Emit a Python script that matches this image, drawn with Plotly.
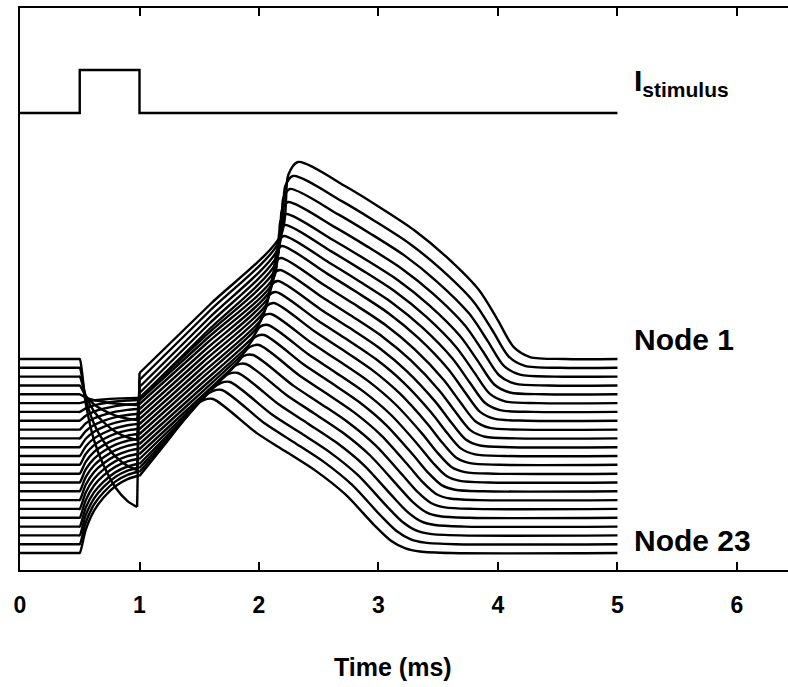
import plotly.graph_objects as go

# ---------------- data (time in ms, potentials in arbitrary display units) ----------------
node_names = ["Node %d" % k for k in range(1, 24)]

# stimulus current trace
stim_time = [0.0, 0.5, 0.5, 1.0, 1.0, 5.0]
stim_current = [0.0, 0.0, 1.0, 1.0, 0.0, 0.0]
stim_baseline = 457.0
stim_amplitude = 43.0

# per-node levels / key times (Node 1 ... Node 23)
rest_level = [211.0, 202.2, 193.4, 184.5, 175.7, 166.9, 158.1, 149.3, 140.4, 131.6, 122.8, 114.0,
              105.2, 96.3, 87.5, 78.7, 69.9, 61.1, 52.2, 43.4, 34.6, 25.8, 17.0]
stim_level = [63, 100, 130, 150, 165, 172, 170, 166, 161, 156, 151, 146, 141, 136, 131, 126, 121,
              116, 111, 106, 102, 98, 94]
break_level = [197, 190, 183, 177, 172, 172, 170, 166, 161, 156, 151, 146, 141, 136, 131, 126, 121,
               116, 111, 106, 102, 98, 94]
ramp_mid_t = [1.594, 1.586, 1.582, 1.577, 1.573, 1.569, 1.565, 1.556, 1.548, 1.540, 1.531, 1.523,
              1.510, 1.494, 1.477, 1.456, 1.431, 1.406, 1.377, 1.343, 1.310, 1.276, 1.238]
ramp_mid_v = [266, 259, 252, 245.5, 239.5, 236, 231.5, 226, 220, 214, 208, 202, 195.5, 189, 182,
              175, 168, 161, 154.5, 148, 142, 136, 129.5]
onset_t = [2.184, 2.167, 2.159, 2.151, 2.142, 2.134, 2.126, 2.109, 2.092, 2.075, 2.059, 2.042,
           2.017, 1.983, 1.950, 1.908, 1.858, 1.808, 1.749, 1.682, 1.615, 1.548, 1.473]
onset_v = [335, 328, 321, 314, 307, 300, 293, 286, 279, 272, 265, 258, 250, 242, 233, 224, 215,
           206, 198, 190, 182, 174, 165]
upstroke_t = [2.245, 2.220, 2.204, 2.192, 2.180, 2.172, 2.163, 2.146, 2.134, 2.121, 2.104, 2.087,
              2.066, 2.036, 2.006, 1.968, 1.922, 1.872, 1.813, 1.746, 1.680, 1.613, 1.537]
upstroke_v = [395, 384, 372, 360, 349, 338, 328, 318, 307, 296, 285, 275, 264, 254, 243, 233, 223,
              214, 205, 196, 187, 179, 170]
peak_t = [2.326, 2.285, 2.259, 2.243, 2.226, 2.218, 2.209, 2.192, 2.184, 2.176, 2.159, 2.142,
          2.126, 2.100, 2.075, 2.042, 2.000, 1.950, 1.891, 1.824, 1.757, 1.690, 1.615]
peak_v = [408, 394, 381, 368, 356, 345, 334, 324, 312, 300, 289, 278, 267, 256, 245, 235, 225,
          215, 206, 197, 188, 180, 171]
recovery_t = [4.268, 4.226, 4.184, 4.142, 4.100, 4.059, 4.017, 3.975, 3.933, 3.891, 3.849, 3.808,
              3.766, 3.724, 3.682, 3.640, 3.598, 3.556, 3.515, 3.473, 3.431, 3.389, 3.347]

# shared shapes: stimulus response, and repolarisation of Node 1 and of Node 23
stim_resp_t = [0.5, 0.55, 0.62, 0.7, 0.8, 0.9, 0.98]
stim_resp_frac = [0.0, 0.3, 0.55, 0.72, 0.87, 0.96, 1.0]
fall_phase = [0.21, 0.35, 0.5, 0.64, 0.78, 0.86, 0.93, 1.0, 1.15]
fall_frac_first = [0.127, 0.228, 0.345, 0.482, 0.65, 0.80, 0.94, 0.99, 1.0]
fall_frac_last = [0.22, 0.34, 0.47, 0.62, 0.82, 0.92, 0.97, 0.99, 1.0]

stim_off_time = 1.0
end_time = 5.0
tick_values = [0, 1, 2, 3, 4, 5, 6]

FONT = "Liberation Sans, Arial, Helvetica, sans-serif"
LINE = dict(color="black", width=2.4)

fig = go.Figure()


def add_line(xs, ys, spline):
    line = dict(LINE)
    if spline:
        line.update(shape="spline", smoothing=0.8)
    fig.add_trace(go.Scatter(x=xs, y=ys, mode="lines", line=line,
                             hoverinfo="skip", showlegend=False))


n_nodes = len(node_names)
# node traces: stimulus response, stimulus break, ramp / action potential / recovery
for i in range(n_nodes):
    B = rest_level[i]
    S = stim_level[i]
    ta = [0.0, 0.49] + list(stim_resp_t)
    va = [B, B] + [B + f * (S - B) for f in stim_resp_frac]
    add_line(ta, va, True)

    add_line([stim_resp_t[-1], stim_off_time], [S, break_level[i]], False)

    w = i / (n_nodes - 1)
    tc = [stim_off_time, ramp_mid_t[i], onset_t[i], upstroke_t[i], peak_t[i]]
    vc = [break_level[i], ramp_mid_v[i], onset_v[i], upstroke_v[i], peak_v[i]]
    for s, f1, f2 in zip(fall_phase, fall_frac_first, fall_frac_last):
        f = (1 - w) * f1 + w * f2
        tc.append(peak_t[i] + s * (recovery_t[i] - peak_t[i]))
        vc.append(peak_v[i] + f * (B - peak_v[i]))
    tc.append(end_time)
    vc.append(B)
    add_line(tc, vc, True)

# stimulus trace
add_line(stim_time, [stim_baseline + stim_amplitude * c for c in stim_current], False)

annotations = [
    dict(x=5.12, y=stim_baseline + 31, xref="x", yref="y", xanchor="left", yanchor="middle",
         text="<b>I<sub>stimulus</sub></b>", showarrow=False,
         font=dict(family=FONT, size=30, color="black")),
    dict(x=5.12, y=rest_level[0] + 20, xref="x", yref="y", xanchor="left", yanchor="middle",
         text="<b>" + node_names[0] + "</b>", showarrow=False,
         font=dict(family=FONT, size=30, color="black")),
    dict(x=5.12, y=rest_level[-1] + 13, xref="x", yref="y", xanchor="left", yanchor="middle",
         text="<b>" + node_names[-1] + "</b>", showarrow=False,
         font=dict(family=FONT, size=30, color="black")),
    dict(x=0.486, y=-0.1726, xref="paper", yref="paper", xanchor="center", yanchor="middle",
         text="<b>Time (ms)</b>", showarrow=False,
         font=dict(family=FONT, size=25, color="black")),
]

fig.update_layout(
    width=788, height=687,
    margin=dict(l=20, r=0, t=8, b=117),
    paper_bgcolor="white", plot_bgcolor="white",
    showlegend=False,
    annotations=annotations,
    xaxis=dict(range=[0, 6.427], tickvals=tick_values, ticktext=[str(v) for v in tick_values],
               showline=True, linecolor="black", linewidth=2, mirror="ticks",
               ticks="inside", ticklen=8, tickwidth=2, tickcolor="black",
               tickfont=dict(family=FONT, size=23, color="black", weight="bold"),
               ticklabelstandoff=13,
               showgrid=False, zeroline=False),
    yaxis=dict(range=[0, 562], showline=True, linecolor="black", linewidth=2, mirror=False,
               ticks="", showticklabels=False, showgrid=False, zeroline=False),
)

fig.write_html("out.html")
